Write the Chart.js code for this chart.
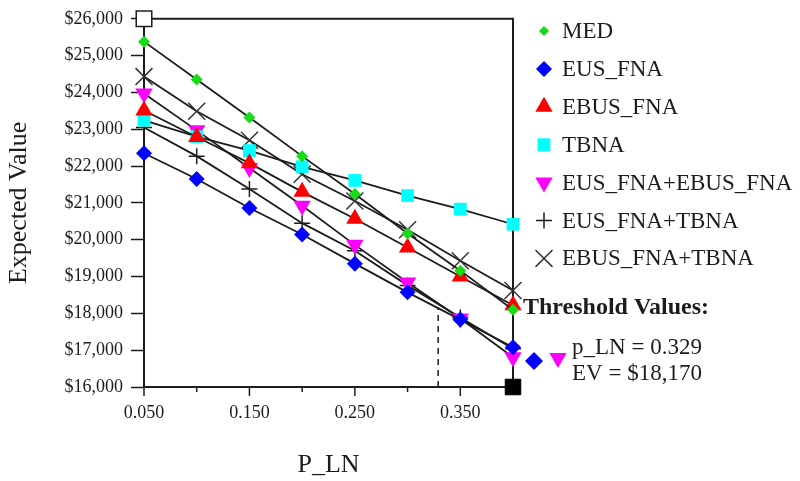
<!DOCTYPE html>
<html>
<head>
<meta charset="utf-8">
<script src="https://cdn.jsdelivr.net/npm/chart.js@4/dist/chart.umd.min.js"></script>
<style>
  html, body { margin:0; padding:0; background:#fff; }
  #wrap { position:relative; width:800px; height:481px; }
</style>
</head>
<body>
<div id="wrap"><canvas id="chartEV" width="800" height="481"></canvas></div>
<script>
// Expected value vs P_LN, one line per strategy
const pLN = [0.05, 0.10, 0.15, 0.20, 0.25, 0.30, 0.35, 0.40];
const med      = [25380, 24350, 23320, 22270, 21240, 20170, 19160, 18100];
const eusFna   = [22350, 21650, 20860, 20140, 19350, 18570, 17830, 17080];
const ebusFna  = [23510, 22790, 22080, 21300, 20570, 19790, 19000, 18220];
const tbna     = [23240, 22800, 22420, 21980, 21610, 21200, 20830, 20420];
const eusEbus  = [23970, 22970, 21950, 20920, 19860, 18840, 17860, 16810];
const eusTbna  = [23050, 22270, 21380, 20450, 19700, 18760, 17890, 17040];
const ebusTbna = [24430, 23490, 22700, 21780, 21050, 20270, 19430, 18620];

const xLabelTicks = [0.05, 0.15, 0.25, 0.35];
const xMinorTicks = [0.10, 0.20, 0.30];
const threshP = 0.329, threshEV = 18170;
const cornerTop = [0.05, 26000], cornerBottom = [0.40, 16000];

const FONT = '"Liberation Serif", "Times New Roman", serif';
const INK = '#1c1c1c';

const pts = arr => pLN.map((x,i)=>({x:x, y:arr[i]}));

const series = [
  {label:'MED', data:med, style:'rectRot', r:6, fill:'#16dc16', rot:0},
  {label:'EUS_FNA', data:eusFna, style:'rectRot', r:8, fill:'#0000ff', rot:0},
  {label:'EBUS_FNA', data:ebusFna, style:'triangle', r:10, fill:'#ff0000', rot:0},
  {label:'TBNA', data:tbna, style:'rect', r:9, fill:'#00ffff', rot:0},
  {label:'EUS_FNA+EBUS_FNA', data:eusEbus, style:'triangle', r:10, fill:'#ff00ff', rot:180},
  {label:'EUS_FNA+TBNA', data:eusTbna, style:'cross', r:8, fill:INK, rot:0, stroke:true},
  {label:'EBUS_FNA+TBNA', data:ebusTbna, style:'crossRot', r:12, fill:'#333', rot:0, stroke:true}
];

const datasets = series.map(s=>({
  label:s.label, data:pts(s.data), showLine:true,
  borderColor:INK, borderWidth:1.8,
  pointStyle:s.style, pointRadius:s.r, pointRotation:s.rot,
  pointBackgroundColor:s.fill, pointBorderColor:s.fill,
  pointBorderWidth:s.stroke?1.5:0, clip:false
}));
// threshold dashed drop line
datasets.push({label:'threshold', data:[{x:threshP,y:16000},{x:threshP,y:threshEV}], showLine:true,
  borderColor:INK, borderWidth:1.5, borderDash:[6,5], pointRadius:0, clip:false});
// axis corner boxes
datasets.push({label:'cornerTop', data:[{x:cornerTop[0],y:cornerTop[1]}], pointStyle:'rect', pointRadius:11,
  pointBackgroundColor:'#fff', pointBorderColor:INK, pointBorderWidth:1.5, clip:false});
datasets.push({label:'cornerBottom', data:[{x:cornerBottom[0],y:cornerBottom[1]}], pointStyle:'rect', pointRadius:11,
  pointBackgroundColor:'#000', pointBorderColor:'#000', pointBorderWidth:1, clip:false});

const extras = {
  id:'extras',
  beforeDatasetsDraw(chart){
    const {ctx, chartArea:a} = chart;
    ctx.save();
    ctx.strokeStyle = INK; ctx.lineWidth = 2;
    ctx.beginPath();
    ctx.moveTo(a.left, a.top); ctx.lineTo(a.right, a.top); ctx.lineTo(a.right, a.bottom);
    ctx.stroke();
    // x ticks: long for labelled, short for minor
    const xs = chart.scales.x;
    ctx.lineWidth = 1.5;
    xLabelTicks.forEach(v=>{ const px=xs.getPixelForValue(v); ctx.beginPath(); ctx.moveTo(px,a.bottom); ctx.lineTo(px,a.bottom+9); ctx.stroke(); });
    xMinorTicks.forEach(v=>{ const px=xs.getPixelForValue(v); ctx.beginPath(); ctx.moveTo(px,a.bottom); ctx.lineTo(px,a.bottom+5); ctx.stroke(); });
    ctx.restore();
  },
  afterDraw(chart){
    const ctx = chart.ctx;
    ctx.save();
    ctx.font = '23px ' + FONT;
    ctx.textBaseline = 'middle'; ctx.textAlign = 'left';
    series.forEach((s,i)=>{
      const y = 32 + i*37.9;
      ctx.fillStyle = s.fill; ctx.strokeStyle = s.fill; ctx.lineWidth = 1.5;
      Chart.helpers.drawPoint(ctx, {pointStyle:s.style, radius:s.style==='rectRot'&&s.r<8?5:s.r, rotation:s.rot, borderWidth:s.stroke?1.5:0}, 544, y - 1);
      ctx.fillStyle = INK;
      ctx.fillText(s.label, 562, y);
    });
    ctx.font = 'bold 24px ' + FONT;
    ctx.fillText('Threshold Values:', 523, 308);
    ctx.font = '23px ' + FONT;
    ctx.fillText('p_LN = ' + threshP.toFixed(3), 572, 348);
    ctx.fillText('EV = $' + threshEV.toLocaleString('en-US'), 572, 374);
    ctx.fillStyle = '#0000ff';
    Chart.helpers.drawPoint(ctx, {pointStyle:'rectRot', radius:9, rotation:0, borderWidth:0}, 534, 361);
    ctx.fillStyle = '#ff00ff';
    Chart.helpers.drawPoint(ctx, {pointStyle:'triangle', radius:10, rotation:180, borderWidth:0}, 558, 358);
    ctx.restore();
  }
};

new Chart(document.getElementById('chartEV'), {
  type:'scatter',
  data:{datasets:datasets},
  options:{
    responsive:false, animation:false,
    layout:{padding:{top:17, right:287, left:0, bottom:0}},
    plugins:{legend:{display:false}, tooltip:{enabled:false}},
    scales:{
      x:{
        type:'linear', min:0.05, max:0.4,
        afterFit:s=>{ s.height = 94; },
        ticks:{stepSize:0.05, color:INK, font:{family:FONT, size:18}, padding:6, maxRotation:0, autoSkip:false,
          callback:v=> xLabelTicks.some(t=>Math.abs(t-v)<1e-6) ? v.toFixed(3) : ''},
        grid:{drawOnChartArea:false, drawTicks:true, tickLength:9, tickColor:'rgba(0,0,0,0)'},
        border:{display:true, color:INK, width:2},
        title:{display:true, text:'P_LN', color:INK, font:{family:FONT, size:26}, padding:{top:6, bottom:0}}
      },
      y:{
        min:16000, max:26000,
        afterFit:s=>{ s.width = 144; },
        ticks:{stepSize:1000, color:INK, font:{family:FONT, size:18}, padding:8,
          callback:v=>'$' + v.toLocaleString('en-US')},
        grid:{drawOnChartArea:false, drawTicks:true, tickLength:13, tickColor:INK, tickWidth:1.5},
        border:{display:true, color:INK, width:2},
        title:{display:true, text:'Expected Value', color:INK, font:{family:FONT, size:26}, padding:{top:4, bottom:0}}
      }
    }
  },
  plugins:[extras]
});
</script>
</body>
</html>
